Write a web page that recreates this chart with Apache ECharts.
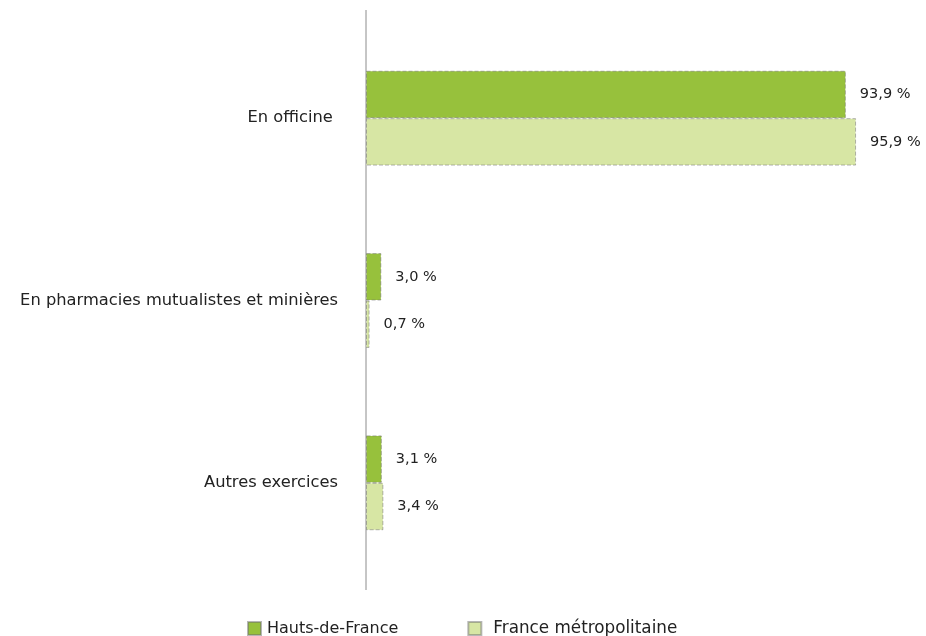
<!DOCTYPE html>
<html><head><meta charset="utf-8">
<script src="https://cdn.jsdelivr.net/npm/echarts@6/dist/echarts.min.js"></script>
<style>html,body{margin:0;padding:0;background:#fff}#c{width:926px;height:636px}</style>
</head><body><div id="c"></div>
<script>
const categories = ['En officine ', 'En pharmacies mutualistes et minières', 'Autres exercices'];
const seriesNames = ['Hauts-de-France', 'France métropolitaine'];
const hautsDeFrance = [93.9, 3.0, 3.1];
const franceMetro = [95.9, 0.7, 3.4];

const chart = echarts.init(document.getElementById('c'));
const fmt = p => p.value.toFixed(1).replace('.', ',') + ' %';
const font = 'DejaVu Sans';
chart.setOption({
  animation: false,
  textStyle: { fontFamily: font },
  grid: { left: 366, right: 49, top: 27, bottom: 62, containLabel: false },
  xAxis: { type: 'value', min: 0, max: 100, show: false },
  yAxis: {
    type: 'category', data: categories, inverse: true,
    axisLine: { show: false }, axisTick: { show: false },
    axisLabel: { color: '#222', fontSize: 16.3, margin: 28, fontFamily: font }
  },
  legend: {
    top: 620, left: 247, padding: 0, itemWidth: 13, itemHeight: 13, itemGap: 69, icon: 'rect',
    textStyle: { color: '#222', fontSize: 16, fontFamily: font, padding: [0, 0, 0, 1] },
    data: [
      { name: seriesNames[0] },
      { name: seriesNames[1], textStyle: { fontSize: 16.8, padding: [0, 0, 0, 7] } }
    ]
  },
  graphic: [{
    type: 'line', shape: { x1: 366, y1: 10, x2: 366, y2: 590 },
    style: { stroke: '#8c8c8c', lineWidth: 1 }
  }],
  series: [
    { name: seriesNames[0], type: 'bar', data: hautsDeFrance, barGap: '0%', barCategoryGap: '48%',
      itemStyle: { color: '#97C13C', borderColor: 'rgba(110,110,110,0.5)', borderWidth: 1, borderType: 'dashed' },
      label: { show: true, position: 'right', distance: 14, formatter: fmt, color: '#222', fontSize: 14.5, fontFamily: font } },
    { name: seriesNames[1], type: 'bar', data: franceMetro,
      itemStyle: { color: '#D7E6A4', borderColor: 'rgba(110,110,110,0.5)', borderWidth: 1, borderType: 'dashed' },
      label: { show: true, position: 'right', distance: 14, formatter: fmt, color: '#222', fontSize: 14.5, fontFamily: font } }
  ]
});
</script></body></html>
